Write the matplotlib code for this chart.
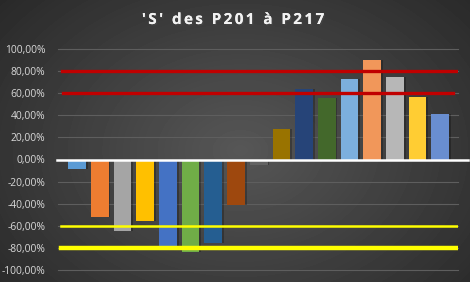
import matplotlib.pyplot as plt
import matplotlib.patheffects as pe
import numpy as np

labels = ["P%d" % n for n in range(201, 218)]
values = [-9, -52, -65, -56, -79, -84, -76, -41, -5,
          28, 64, 56, 73, 90, 75, 57, 41]
colors = ["#5B9BD5", "#ED7D31", "#A5A5A5", "#FFC000", "#4472C4", "#70AD47",
          "#255E91", "#9E480E", "#636363", "#997300", "#264478", "#43682B",
          "#7CAFDD", "#F1975A", "#B7B7B7", "#FFCD33", "#698ED0"]
upper_limits = [80, 60]
lower_limits = [-60, -80]
yticks = [100, 80, 60, 40, 20, 0, -20, -40, -60, -80, -100]
title = "'S' des P201 à P217"

fig = plt.figure(figsize=(4.7, 2.82), dpi=100)

# dark radial background
bg = fig.add_axes([0, 0, 1, 1])
yy, xx = np.mgrid[0:282, 0:470]
r = np.sqrt(((xx - 240) / 300.0) ** 2 + ((yy - 150) / 220.0) ** 2)
shade = np.clip(0.34 - 0.17 * r, 0.15, 0.34)
bg.imshow(shade, cmap="gray", vmin=0, vmax=1, aspect="auto", extent=[0, 1, 0, 1])
bg.set_axis_off()

ax = fig.add_axes([58 / 470, 1 - 270 / 282, 400 / 470, 221 / 282])
ax.patch.set_alpha(0)
x = np.arange(len(values))

for yv in yticks:
    if yv != 0:
        ax.axhline(yv, color="#5e5e5e", lw=0.8, zorder=1, clip_on=False)

# soft shadows then bars
ax.bar(x + 0.08, values, width=0.78, color="black", alpha=0.25, zorder=2)
ax.bar(x, values, width=0.78, color=colors, zorder=3)

ax.axhline(0, xmin=-0.003, xmax=1.025, color="white", lw=1.8, zorder=4, clip_on=False)

ax.axhline(upper_limits[0], xmin=0.01, xmax=1.0, color="#C00000", lw=2.4, zorder=5)
ax.axhline(upper_limits[1], xmin=0.0125, xmax=0.9875, color="#C00000", lw=2.4, zorder=5)
ax.axhline(lower_limits[0], xmin=0.0075, xmax=0.9975, color="#FFFF00", lw=1.8, zorder=5)
ax.axhline(lower_limits[1], xmin=0.0075, xmax=0.9975, color="#FFFF00", lw=3.2, zorder=5)

ax.set_xlim(-0.84, 16.78)
ax.set_ylim(-100, 100)
ax.set_xticks([])
ax.set_yticks(yticks)
ax.set_yticklabels([("%.2f%%" % v).replace(".", ",") for v in yticks],
                   fontsize=7.4, color="#d9d9d9", family="Open Sans")
ax.tick_params(axis="y", length=0, pad=9)
for s in ax.spines.values():
    s.set_visible(False)

# letter-spaced title, placed char by char
tkw = dict(fontsize=11, fontweight="bold", family="Open Sans")
renderer = fig.canvas.get_renderer()

def text_w(s):
    t = fig.text(0, 0, s, **tkw)
    w = t.get_window_extent(renderer).width
    t.remove()
    return w

spacing = 2.4
ref = text_w("l")
offsets = [text_w(title[:i] + "l") - ref if i else 0 for i in range(len(title))]
total = text_w(title) + spacing * (len(title) - 1)
x0 = 233 - total / 2
for i, ch in enumerate(title):
    if ch == " ":
        continue
    fig.text((x0 + offsets[i] + spacing * i) / 470, 1 - 20 / 282, ch, ha="left",
             va="center", color="#f2f2f2",
             path_effects=[pe.withSimplePatchShadow(offset=(1, -1), alpha=0.6), pe.Normal()],
             **tkw)

fig.savefig("out.png", dpi=100)
